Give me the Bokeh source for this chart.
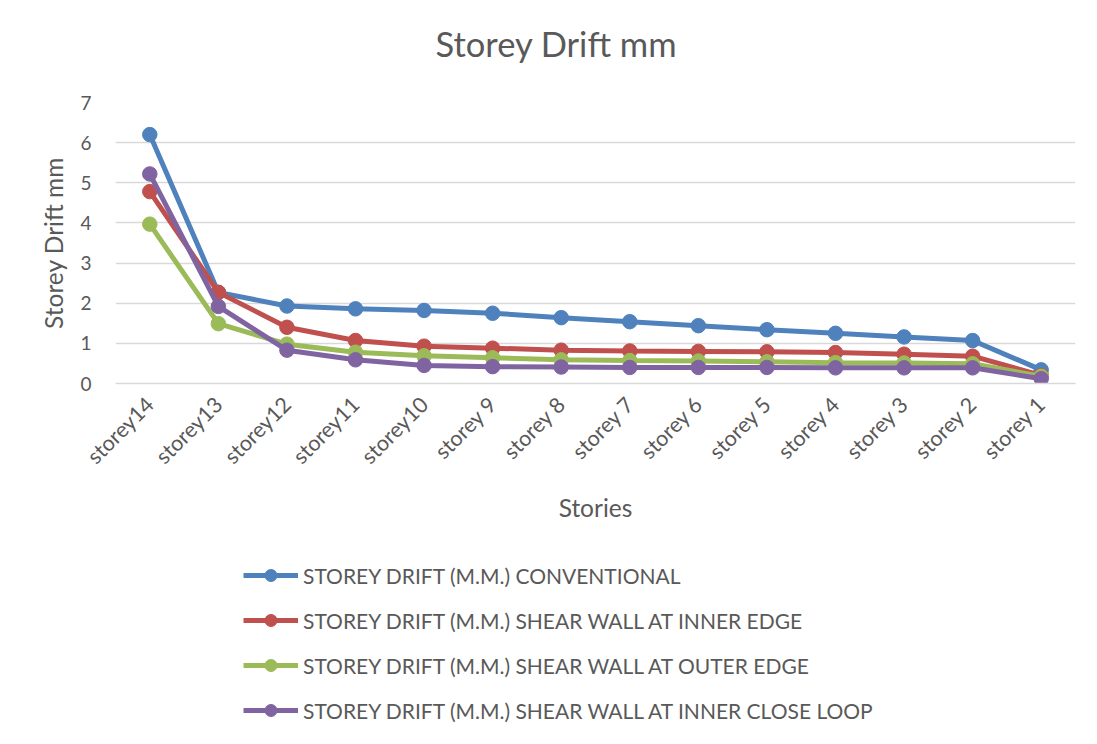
import math
from bokeh.plotting import figure
from bokeh.layouts import column
from bokeh.models import FactorRange, Range1d, FixedTicker, Legend, LegendItem, ColumnDataSource, Title
from bokeh.embed import file_html
from bokeh.resources import INLINE

stories = ["storey14", "storey13", "storey12", "storey11", "storey10", "storey 9", "storey 8",
           "storey 7", "storey 6", "storey 5", "storey 4", "storey 3", "storey 2", "storey 1"]
conventional = [6.20, 2.27, 1.93, 1.86, 1.82, 1.75, 1.64, 1.54, 1.44, 1.34, 1.25, 1.16, 1.07, 0.34]
inner_edge = [4.78, 2.27, 1.40, 1.07, 0.93, 0.88, 0.83, 0.81, 0.80, 0.79, 0.77, 0.73, 0.68, 0.20]
outer_edge = [3.97, 1.49, 0.98, 0.78, 0.69, 0.64, 0.59, 0.57, 0.56, 0.54, 0.52, 0.51, 0.49, 0.18]
inner_loop = [5.22, 1.92, 0.83, 0.59, 0.45, 0.42, 0.41, 0.40, 0.40, 0.40, 0.39, 0.39, 0.39, 0.12]
series_names = ["STOREY DRIFT (M.M.) CONVENTIONAL",
                "STOREY DRIFT (M.M.) SHEAR WALL AT INNER EDGE",
                "STOREY DRIFT (M.M.) SHEAR WALL AT OUTER EDGE",
                "STOREY DRIFT (M.M.) SHEAR WALL AT INNER CLOSE LOOP"]
y_ticks = [0, 1, 2, 3, 4, 5, 6, 7]

colors = ["#4f81bd", "#c0504d", "#9bbb59", "#8064a2"]
FONT = "Lato"
TXT = "#595959"
W = 1089

p = figure(width=W, height=540, x_range=FactorRange(*stories, range_padding=0),
           y_range=Range1d(0, 7), output_backend="svg", toolbar_location=None, title=None,
           min_border_left=115, min_border_right=14, min_border_top=102, min_border_bottom=157)
p.outline_line_color = None
p.background_fill_color = "white"
p.border_fill_color = "white"

p.xgrid.grid_line_color = None
p.ygrid.grid_line_color = "#d9d9d9"
p.ygrid.grid_line_width = 1.5

p.yaxis.ticker = FixedTicker(ticks=y_ticks)
p.yaxis.axis_line_color = None
p.yaxis.major_tick_line_color = None
p.yaxis.minor_tick_line_color = None
p.yaxis.major_label_text_font = FONT
p.yaxis.major_label_text_font_size = "19px"
p.yaxis.major_label_text_color = TXT
p.yaxis.major_label_standoff = 18
p.yaxis.axis_label = "Storey Drift mm"
p.yaxis.axis_label_text_font = FONT
p.yaxis.axis_label_text_font_size = "24.5px"
p.yaxis.axis_label_text_font_style = "normal"
p.yaxis.axis_label_text_color = TXT
p.yaxis.axis_label_standoff = 9

p.xaxis.axis_line_color = "#d9d9d9"
p.xaxis.axis_line_width = 1.5
p.xaxis.major_tick_line_color = None
p.xaxis.minor_tick_line_color = None
p.xaxis.major_label_orientation = math.pi / 4
p.xaxis.major_label_text_font = FONT
p.xaxis.major_label_text_font_size = "21.5px"
p.xaxis.major_label_text_color = TXT
p.xaxis.major_label_standoff = 11
p.xaxis.axis_label = "Stories"
p.xaxis.axis_label_text_font = FONT
p.xaxis.axis_label_text_font_size = "24.5px"
p.xaxis.axis_label_text_font_style = "normal"
p.xaxis.axis_label_text_color = TXT
p.xaxis.axis_label_standoff = 12

# legend-only figure below the chart: same series, view range away from the data
lf = figure(width=W, height=196, x_range=FactorRange(*stories, range_padding=0),
            y_range=Range1d(100, 101), output_backend="svg", toolbar_location=None, title=None,
            x_axis_location=None, y_axis_location=None,
            min_border_left=115, min_border_right=14, min_border_top=0, min_border_bottom=0)
lf.outline_line_color = None
lf.grid.visible = False

series = [conventional, inner_edge, outer_edge, inner_loop]
items = []
for name, vals, c in zip(series_names, series, colors):
    src = ColumnDataSource(dict(x=stories, y=vals))
    p.line("x", "y", source=src, line_color=c, line_width=5)
    p.scatter("x", "y", source=src, size=14.5, fill_color=c, line_color=c)
    r1 = lf.line("x", "y", source=src, line_color=c, line_width=5)
    r2 = lf.scatter("x", "y", source=src, size=14.5, fill_color=c, line_color=c)
    items.append(LegendItem(label=name, renderers=[r1, r2]))

legend = Legend(items=items, location=(128, 11), orientation="vertical",
                glyph_width=55, glyph_height=30, label_height=30, label_standoff=5, spacing=15,
                padding=0, margin=0, border_line_color=None, background_fill_alpha=0,
                label_text_font=FONT, label_text_font_size="21px", label_text_color=TXT)
lf.add_layout(legend, "center")

spacer = Title(text=" ", text_font_size="20px")
p.add_layout(spacer, "above")
title = Title(text="Storey Drift mm", align="left", offset=320, text_font=FONT,
              text_font_size="34.5px", text_font_style="normal", text_color=TXT)
p.add_layout(title, "above")

layout = column(p, lf, spacing=0)
open("out.html", "w").write(file_html(layout, INLINE))
